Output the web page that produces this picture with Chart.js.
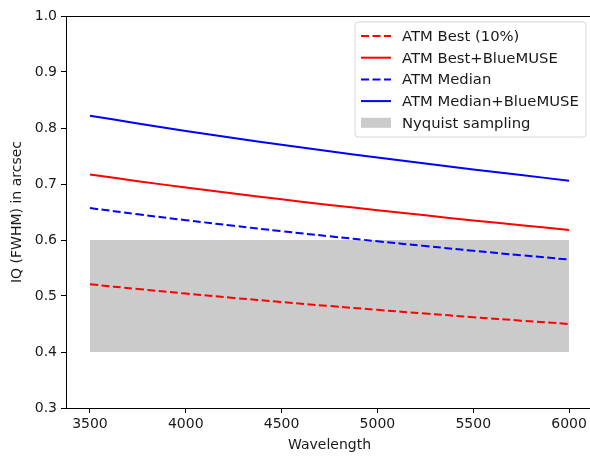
<!DOCTYPE html>
<html>
<head>
<meta charset="utf-8">
<script src="https://cdn.jsdelivr.net/npm/chart.js@4.4.1/dist/chart.umd.min.js"></script>
<style>
html,body{margin:0;padding:0;overflow:hidden;background:#fff;width:590px;height:456px;}
canvas{display:block;}
</style>
</head>
<body>
<canvas id="c" width="600" height="456"></canvas>
<script>
const wavelengths = [3500, 3750, 4000, 4250, 4500, 4750, 5000, 5250, 5500, 5750, 6000];
const atmBest = [0.5210, 0.5125, 0.5043, 0.4966, 0.4892, 0.4821, 0.4753, 0.4687, 0.4622, 0.4560, 0.4500];
const atmBestBlueMUSE = [0.7170, 0.7051, 0.6937, 0.6829, 0.6726, 0.6627, 0.6532, 0.6440, 0.6350, 0.6264, 0.6180];
const atmMedian = [0.6570, 0.6460, 0.6354, 0.6254, 0.6158, 0.6066, 0.5978, 0.5892, 0.5808, 0.5728, 0.5650];
const atmMedianBlueMUSE = [0.8220, 0.8081, 0.7947, 0.7821, 0.7700, 0.7584, 0.7473, 0.7365, 0.7260, 0.7159, 0.7060];
const nyquistX = [3500, 6000];
const nyquistLow = [0.4, 0.4];
const nyquistHigh = [0.6, 0.6];
const xTicks = [3500, 4000, 4500, 5000, 5500, 6000];
const yTicks = [0.3, 0.4, 0.5, 0.6, 0.7, 0.8, 0.9, 1.0];

const FONT = 'DejaVu Sans';
const TXT = '#1a1a1a';
const pts = (xs, ys) => xs.map((x, i) => ({x: x, y: ys[i]}));

const framePlugin = {
  id: 'frame',
  afterDatasetsDraw(chart) {
    const a = chart.chartArea, ctx = chart.ctx;
    ctx.save();
    ctx.strokeStyle = '#000';
    ctx.lineWidth = 1;
    ctx.strokeRect(Math.round(a.left) + 0.5, Math.round(a.top) + 0.5, Math.round(a.right - a.left), Math.round(a.bottom - a.top));
    ctx.restore();
  }
};

const legendPlugin = {
  id: 'mplLegend',
  afterDraw(chart) {
    const ctx = chart.ctx;
    const items = [
      {label: 'ATM Best (10%)', color: 'red', dash: [8, 3.5], type: 'line'},
      {label: 'ATM Best+BlueMUSE', color: 'red', dash: [], type: 'line'},
      {label: 'ATM Median', color: 'blue', dash: [8, 3.5], type: 'line'},
      {label: 'ATM Median+BlueMUSE', color: 'blue', dash: [], type: 'line'},
      {label: 'Nyquist sampling', color: '#cbcbcb', type: 'patch'}
    ];
    const x0 = 355, y0 = 22, w = 231, h = 115;
    ctx.save();
    ctx.beginPath();
    const r = 3;
    ctx.moveTo(x0 + r, y0);
    ctx.arcTo(x0 + w, y0, x0 + w, y0 + h, r);
    ctx.arcTo(x0 + w, y0 + h, x0, y0 + h, r);
    ctx.arcTo(x0, y0 + h, x0, y0, r);
    ctx.arcTo(x0, y0, x0 + w, y0, r);
    ctx.closePath();
    ctx.fillStyle = 'rgba(255,255,255,0.8)';
    ctx.fill();
    ctx.strokeStyle = '#d6d6d6';
    ctx.lineWidth = 1;
    ctx.stroke();
    ctx.font = '14.8px "' + FONT + '"';
    ctx.textBaseline = 'middle';
    ctx.fillStyle = TXT;
    items.forEach((it, i) => {
      const cy = 36 + i * 21.7;
      if (it.type === 'line') {
        ctx.beginPath();
        ctx.setLineDash(it.dash);
        ctx.strokeStyle = it.color;
        ctx.lineWidth = 2;
        ctx.moveTo(361, cy);
        ctx.lineTo(391, cy);
        ctx.stroke();
        ctx.setLineDash([]);
      } else {
        ctx.fillStyle = it.color;
        ctx.fillRect(361, cy - 5, 30, 10);
      }
      ctx.fillStyle = TXT;
      ctx.fillText(it.label, 402, cy + 1);
    });
    ctx.restore();
  }
};

new Chart(document.getElementById('c'), {
  type: 'line',
  data: {
    datasets: [
      {label: 'nyqLow', data: pts(nyquistX, nyquistLow), borderWidth: 0, pointRadius: 0, fill: false, order: 10, borderColor: 'rgba(0,0,0,0)'},
      {label: 'Nyquist sampling', data: pts(nyquistX, nyquistHigh), borderWidth: 0, pointRadius: 0, fill: '-1', backgroundColor: '#cbcbcb', borderColor: 'rgba(0,0,0,0)', order: 9},
      {label: 'ATM Best (10%)', data: pts(wavelengths, atmBest), borderColor: 'red', borderDash: [8, 3.5], borderWidth: 2, pointRadius: 0, tension: 0.4, fill: false, order: 1},
      {label: 'ATM Best+BlueMUSE', data: pts(wavelengths, atmBestBlueMUSE), borderColor: 'red', borderWidth: 2, pointRadius: 0, tension: 0.4, fill: false, order: 1},
      {label: 'ATM Median', data: pts(wavelengths, atmMedian), borderColor: 'blue', borderDash: [8, 3.5], borderWidth: 2, pointRadius: 0, tension: 0.4, fill: false, order: 1},
      {label: 'ATM Median+BlueMUSE', data: pts(wavelengths, atmMedianBlueMUSE), borderColor: 'blue', borderWidth: 2, pointRadius: 0, tension: 0.4, fill: false, order: 1}
    ]
  },
  options: {
    responsive: false,
    animation: false,
    layout: {padding: {left: 0, top: 16, right: 7, bottom: 0}},
    plugins: {legend: {display: false}, tooltip: {enabled: false}},
    scales: {
      x: {
        type: 'linear',
        min: 3375, max: 6125,
        afterBuildTicks: (s) => { s.ticks = xTicks.map(v => ({value: v})); },
        afterFit: (s) => { s.height = 48; },
        grid: {drawOnChartArea: false, tickLength: 5, tickColor: '#000', tickWidth: 1},
        border: {color: '#000', width: 1},
        ticks: {font: {family: FONT, size: 14}, color: TXT, padding: 3, maxRotation: 0, callback: (v) => String(v)},
        title: {display: true, text: 'Wavelength', font: {family: FONT, size: 14}, color: TXT, padding: {top: 2, bottom: 2}}
      },
      y: {
        type: 'linear',
        min: 0.3, max: 1.0,
        afterBuildTicks: (s) => { s.ticks = yTicks.map(v => ({value: v})); },
        afterFit: (s) => { s.width = 66; },
        grid: {drawOnChartArea: false, tickLength: 5, tickColor: '#000', tickWidth: 1},
        border: {color: '#000', width: 1},
        ticks: {font: {family: FONT, size: 14}, color: TXT, padding: 4, callback: (v) => Number(v).toFixed(1)},
        title: {display: true, text: 'IQ (FWHM) in arcsec', font: {family: FONT, size: 14}, color: TXT, padding: {top: 9, bottom: 2}}
      }
    }
  },
  plugins: [framePlugin, legendPlugin]
});
</script>
</body>
</html>
